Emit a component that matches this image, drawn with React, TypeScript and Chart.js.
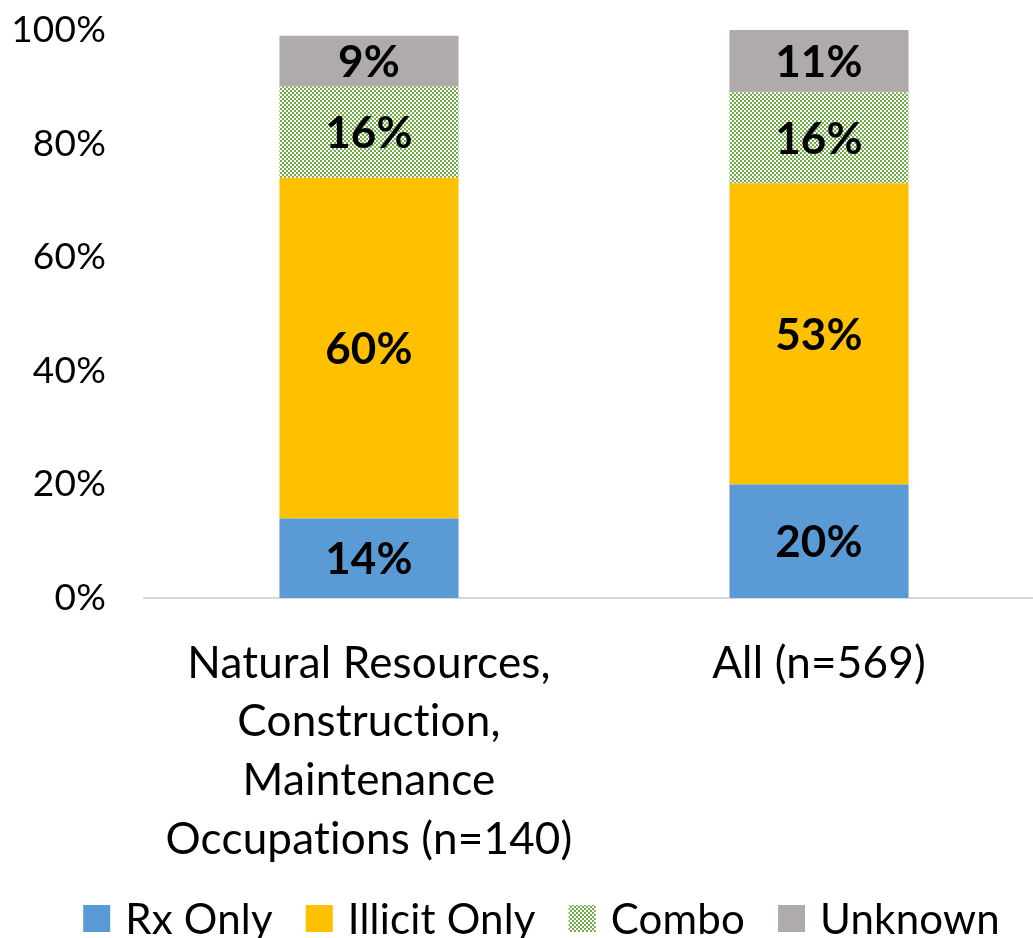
import React, { useEffect, useRef } from "react";
import { Chart, registerables } from "chart.js";

Chart.register(...registerables);

const categories: (string | string[])[] = [
  ["Natural Resources,", "Construction,", "Maintenance", "Occupations (n=140)"],
  "All (n=569)",
];
const seriesNames = ["Rx Only", "Illicit Only", "Combo", "Unknown"];
const rxOnly = [14, 20];
const illicitOnly = [60, 53];
const combo = [16, 16];
const unknown = [9, 11];
const yTickValues = [0, 20, 40, 60, 80, 100];

const FONT = "Lato, 'Open Sans', sans-serif";

function makePattern(): CanvasPattern | string {
  const c = document.createElement("canvas");
  c.width = 4;
  c.height = 4;
  const g = c.getContext("2d");
  if (!g) return "#70AD47";
  g.fillStyle = "#ffffff";
  g.fillRect(0, 0, 4, 4);
  g.fillStyle = "#70AD47";
  g.fillRect(0, 0, 2, 2);
  g.fillRect(2, 2, 2, 2);
  const p = g.createPattern(c, "repeat");
  return p || "#70AD47";
}

const noLigaturePlugin = {
  id: "noLigatures",
  beforeDraw(chart: any) {
    try {
      chart.ctx.letterSpacing = "0.2px";
    } catch (e) {
      /* ignore */
    }
  },
};

const dataLabelPlugin = {
  id: "dataLabels",
  afterDatasetsDraw(chart: any) {
    const ctx = chart.ctx;
    ctx.save();
    ctx.font = `bold 44px ${FONT}`;
    ctx.fillStyle = "#000";
    ctx.textAlign = "center";
    ctx.textBaseline = "middle";
    chart.data.datasets.forEach((ds: any, di: number) => {
      const meta = chart.getDatasetMeta(di);
      meta.data.forEach((el: any, i: number) => {
        const v = ds.data[i];
        const cy = (el.y + el.base) / 2;
        ctx.fillText(`${v}%`, el.x, cy + 2);
      });
    });
    ctx.restore();
  },
};

const legendPlugin = {
  id: "customLegend",
  afterDraw(chart: any) {
    const ctx = chart.ctx;
    ctx.save();
    ctx.font = `42px ${FONT}`;
    const box = 27;
    const gapText = 15;
    const gapItem = 33;
    const items = chart.data.datasets.map((ds: any) => ({
      label: ds.label,
      color: ds.backgroundColor,
      w: ctx.measureText(ds.label).width,
    }));
    let total = 0;
    items.forEach((it: any, i: number) => {
      total += box + gapText + it.w + (i < items.length - 1 ? gapItem : 0);
    });
    let x = 541.5 - total / 2;
    const top = 905;
    items.forEach((it: any) => {
      ctx.fillStyle = it.color;
      ctx.fillRect(x, top, box, box);
      ctx.fillStyle = "#000";
      ctx.textAlign = "left";
      ctx.textBaseline = "middle";
      ctx.fillText(it.label, x + box + gapText, top + box / 2 + 2);
      x += box + gapText + it.w + gapItem;
    });
    ctx.restore();
  },
};

export default function App() {
  const ref = useRef<HTMLCanvasElement>(null);
  useEffect(() => {
    document.body.style.margin = "0";
    document.body.style.overflow = "hidden";
    const canvas = ref.current;
    if (!canvas) return;
    const pattern = makePattern();
    const chart = new Chart(canvas, {
      type: "bar",
      data: {
        labels: categories,
        datasets: [
          { label: seriesNames[0], data: rxOnly, backgroundColor: "#5B9BD5" },
          { label: seriesNames[1], data: illicitOnly, backgroundColor: "#FFC000" },
          { label: seriesNames[2], data: combo, backgroundColor: pattern as any },
          { label: seriesNames[3], data: unknown, backgroundColor: "#AFABAB" },
        ],
      },
      options: {
        responsive: false,
        animation: false,
        devicePixelRatio: 1,
        layout: { padding: { top: 30, left: 0, right: 0, bottom: 0 } },
        datasets: {
          bar: { categoryPercentage: 0.398, barPercentage: 1, borderWidth: 0 },
        },
        plugins: {
          legend: { display: false },
          tooltip: { enabled: false },
        },
        scales: {
          x: {
            stacked: true,
            grid: { display: false },
            border: { display: true, color: "#D9D9D9", width: 2 },
            ticks: {
              color: "#000",
              padding: 28,
              font: { family: FONT, size: 44, lineHeight: 1.335 },
              maxRotation: 0,
              autoSkip: false,
            },
            afterFit: (scale: any) => {
              scale.height = 340;
              scale.paddingLeft = 0;
              scale.paddingRight = 0;
            },
          },
          y: {
            stacked: true,
            min: 0,
            max: 100,
            grid: { display: false },
            border: { display: false },
            afterBuildTicks: (scale: any) => {
              scale.ticks = yTickValues.map((v) => ({ value: v }));
            },
            ticks: {
              color: "#000",
              padding: 30,
              font: { family: FONT, size: 37 },
              callback: (v: any) => `${v}%`,
            },
            afterFit: (scale: any) => {
              scale.width = 144;
              scale.paddingTop = 0;
              scale.paddingBottom = 0;
            },
          },
        },
      },
      plugins: [noLigaturePlugin, dataLabelPlugin, legendPlugin],
    });
    return () => chart.destroy();
  }, []);
  return (
    <canvas
      ref={ref}
      width={1044}
      height={938}
      style={{ display: "block", width: 1044, height: 938 }}
    />
  );
}
